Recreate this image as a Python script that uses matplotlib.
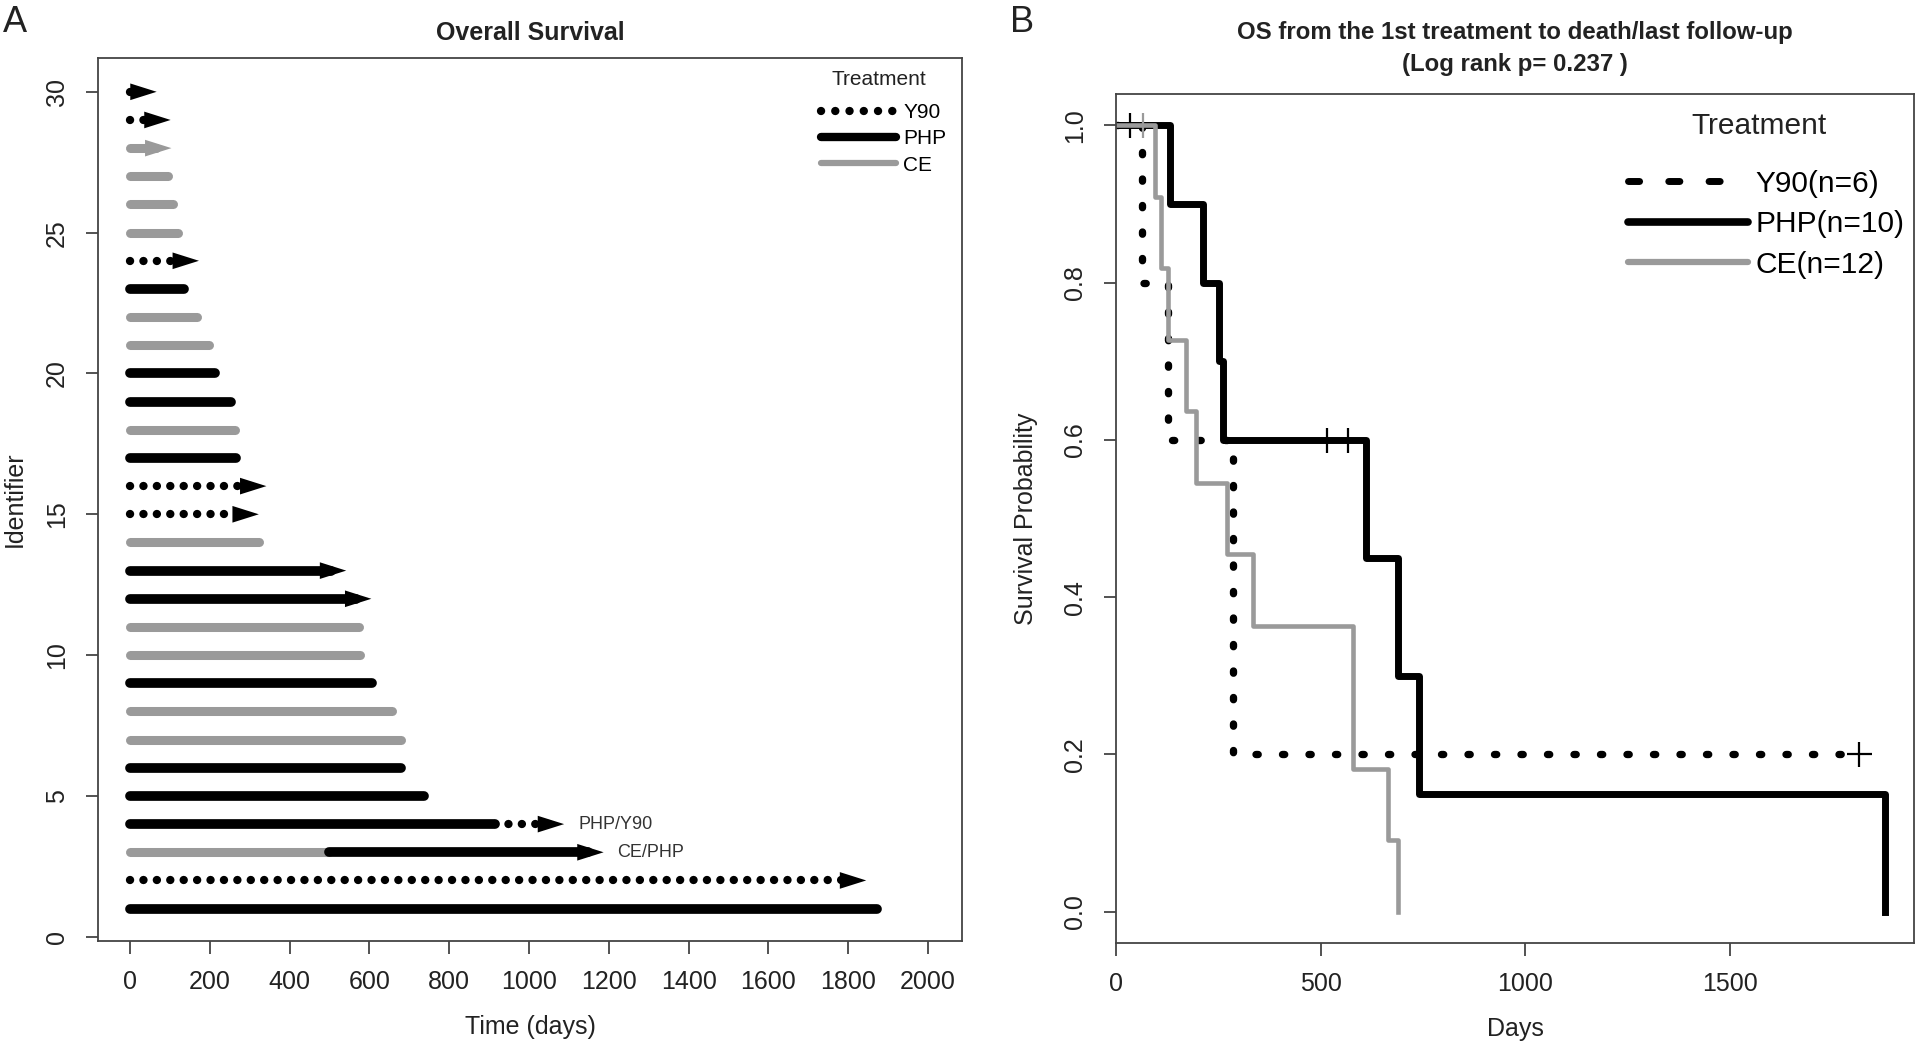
import matplotlib
matplotlib.use('Agg')
import matplotlib.pyplot as plt
from matplotlib.lines import Line2D
import numpy as np

plt.rcParams['font.family'] = ['Liberation Sans', 'DejaVu Sans']

# ---- panel A: one row per patient, identifier 1..30 ----
ids = list(range(1, 31))
first_tx = ['PHP', 'Y90', 'CE', 'PHP', 'PHP', 'PHP', 'CE', 'CE', 'PHP', 'CE',
            'CE', 'PHP', 'PHP', 'CE', 'Y90', 'Y90', 'PHP', 'CE', 'PHP', 'PHP',
            'CE', 'CE', 'PHP', 'Y90', 'CE', 'CE', 'CE', 'CE', 'Y90', 'Y90']
end_days = [1871, 1845, 1187, 1088, 736, 680, 680, 657, 607, 577,
            573, 605, 542, 323, 323, 342, 265, 263, 253, 213,
            198, 167, 136, 173, 121, 108, 95, 104, 102, 67]
alive = [0, 1, 1, 1, 0, 0, 0, 0, 0, 0,
         0, 1, 1, 0, 1, 1, 0, 0, 0, 0,
         0, 0, 0, 1, 0, 0, 0, 1, 1, 1]
# patients who switched to a second treatment
switch_ids = [3, 4]
switch_days = [500, 916]
switch_tx = ['PHP', 'Y90']
switch_labels = ['CE/PHP', 'PHP/Y90']

# ---- panel B: Kaplan-Meier input (time, 1 = death / 0 = censored) ----
y90_time = [34, 64, 127, 285, 285, 1815]
y90_event = [0, 1, 1, 1, 1, 0]
php_time = [131, 212, 251, 262, 515, 567, 612, 688, 740, 1878]
php_event = [1, 1, 1, 1, 0, 0, 1, 1, 1, 1]
ce_time = [66, 95, 111, 127, 172, 196, 272, 335, 580, 580, 665, 688]
ce_event = [0, 1, 1, 1, 1, 1, 1, 1, 1, 1, 1, 1]
km_labels = ['Y90(n=6)', 'PHP(n=10)', 'CE(n=12)']

GRAY = '#9a9a9a'
EDGE = '#444444'
TXT = '#222222'

bar_style = {
    'Y90': dict(color='black', lw=6, ls=(0, (0.01, 1.6)), dash_capstyle='round'),
    'PHP': dict(color='black', lw=7, solid_capstyle='round'),
    'CE': dict(color=GRAY, lw=6.5, solid_capstyle='round'),
}
head_days = 65


def draw_segment(ax, x0, x1, y, tx):
    ax.plot([x0, x1], [y, y], **bar_style[tx])


def draw_head(ax, x, y, tx):
    ax.annotate('', xy=(x, y), xytext=(x - head_days, y),
                arrowprops=dict(arrowstyle='-|>,head_length=19,head_width=6',
                                mutation_scale=1, color=bar_style[tx]['color'],
                                lw=0, shrinkA=0, shrinkB=0))


def km_curve(times, events):
    t = np.array(times)
    e = np.array(events)
    xs, ys = [0], [1.0]
    s = 1.0
    for u in np.unique(t):
        n = (t >= u).sum()
        d = e[t == u].sum()
        if d > 0:
            s *= 1 - d / n
            xs.append(u)
            ys.append(s)
    if xs[-1] < t.max():
        xs.append(t.max())
        ys.append(s)
    return np.array(xs), np.array(ys)


def style_axes(ax):
    for sp in ax.spines.values():
        sp.set_color(EDGE)
        sp.set_linewidth(1.3)
    ax.tick_params(direction='out', length=9, width=1.3, color=EDGE,
                   labelsize=18, pad=12, labelcolor=TXT)


fig = plt.figure(figsize=(19.2, 10.44), dpi=100)

# ================= panel A =================
axA = fig.add_axes([98 / 1920, 103 / 1044, 864 / 1920, 883 / 1044])
for i, pid in enumerate(ids):
    tx = first_tx[i]
    end = end_days[i]
    last_tx = tx
    shaft_end = end - head_days * 0.6 if alive[i] else end
    if pid in switch_ids:
        k = switch_ids.index(pid)
        draw_segment(axA, 0, switch_days[k], pid, tx)
        last_tx = switch_tx[k]
        draw_segment(axA, switch_days[k], shaft_end, pid, last_tx)
        axA.text(end + 35, pid, switch_labels[k], va='center', ha='left',
                 fontsize=13, color='#333333')
    else:
        draw_segment(axA, 0, max(shaft_end, 0), pid, tx)
    if alive[i]:
        draw_head(axA, end, pid, last_tx)

axA.set_xlim(-80, 2085)
axA.set_ylim(-0.15, 31.2)
axA.set_xticks(range(0, 2001, 200))
axA.set_yticks(range(0, 31, 5))
axA.set_yticklabels([str(v) for v in range(0, 31, 5)], rotation=90, va='center')
style_axes(axA)
axA.set_xlabel('Time (days)', fontsize=18, labelpad=15, color=TXT)
axA.set_ylabel('Identifier', fontsize=18, labelpad=13, color=TXT)

handlesA = [Line2D([], [], color='black', lw=6, ls=(0, (0.01, 1.7)), dash_capstyle='round'),
            Line2D([], [], color='black', lw=6, solid_capstyle='round'),
            Line2D([], [], color=GRAY, lw=4.5, solid_capstyle='round')]
axA.legend(handlesA, ['Y90', 'PHP', 'CE'], loc='upper left',
           bbox_to_anchor=(0.837, 0.949), frameon=False, fontsize=15,
           handlelength=3.6, handletextpad=0.35,
           labelspacing=0.35, borderpad=0, borderaxespad=0)
axA.text(0.904, 0.976, 'Treatment', transform=axA.transAxes, ha='center',
         va='center', fontsize=15, color=TXT)

# ================= panel B =================
axB = fig.add_axes([1116 / 1920, 101 / 1044, 798 / 1920, 849 / 1044])
km_style = [dict(color='black', lw=5.3, ls=(0, (0.3, 3.3)), dash_capstyle='round'),
            dict(color='black', lw=5),
            dict(color=GRAY, lw=3.3)]
groups = [(y90_time, y90_event), (php_time, php_event), (ce_time, ce_event)]
for (times, events), st in zip(groups, km_style):
    xs, ys = km_curve(times, events)
    axB.step(xs, ys, where='post', **st)
    ct = [t for t, e in zip(times, events) if e == 0]
    cs = [ys[np.searchsorted(xs, t, side='right') - 1] for t in ct]
    axB.plot(ct, cs, ls='none', marker='+', ms=18, mew=1.6, color=st['color'])

axB.set_xlim(0, 1950)
axB.set_ylim(-0.04, 1.04)
axB.set_xticks([0, 500, 1000, 1500])
yt = [0.0, 0.2, 0.4, 0.6, 0.8, 1.0]
axB.set_yticks(yt)
axB.set_yticklabels(['%.1f' % v for v in yt], rotation=90, va='center')
style_axes(axB)
axB.set_xlabel('Days', fontsize=18, labelpad=15, color=TXT)
axB.set_ylabel('Survival Probability', fontsize=18, labelpad=18, color=TXT)

handlesB = [Line2D([], [], color='black', lw=5, ls=(0, (1.6, 4.2)), dash_capstyle='round'),
            Line2D([], [], color='black', lw=5.5, solid_capstyle='round'),
            Line2D([], [], color=GRAY, lw=4.5, solid_capstyle='round')]
axB.legend(handlesB, km_labels, loc='upper left',
           bbox_to_anchor=(0.642, 0.911), frameon=False, fontsize=21.5,
           handlelength=4.0, handletextpad=0.25,
           labelspacing=0.42, borderpad=0, borderaxespad=0)
axB.text(0.806, 0.962, 'Treatment', transform=axB.transAxes, ha='center',
         va='center', fontsize=21.5, color=TXT)

# ---- titles and panel letters ----
fig.text(530 / 1920, 1 - 33 / 1044, 'Overall Survival', ha='center', va='center',
         fontsize=18, fontweight='bold', color=TXT)
fig.text(1515 / 1920, 1 - 32 / 1044, 'OS from the 1st treatment to death/last follow-up',
         ha='center', va='center', fontsize=17.3, fontweight='bold', color=TXT)
fig.text(1515 / 1920, 1 - 65 / 1044, '(Log rank p= 0.237 )',
         ha='center', va='center', fontsize=17.3, fontweight='bold', color=TXT)
fig.text(15 / 1920, 1 - 22 / 1044, 'A', ha='center', va='center', fontsize=26, color=TXT)
fig.text(1022 / 1920, 1 - 22 / 1044, 'B', ha='center', va='center', fontsize=26, color=TXT)

fig.savefig('out.png', dpi=100)
